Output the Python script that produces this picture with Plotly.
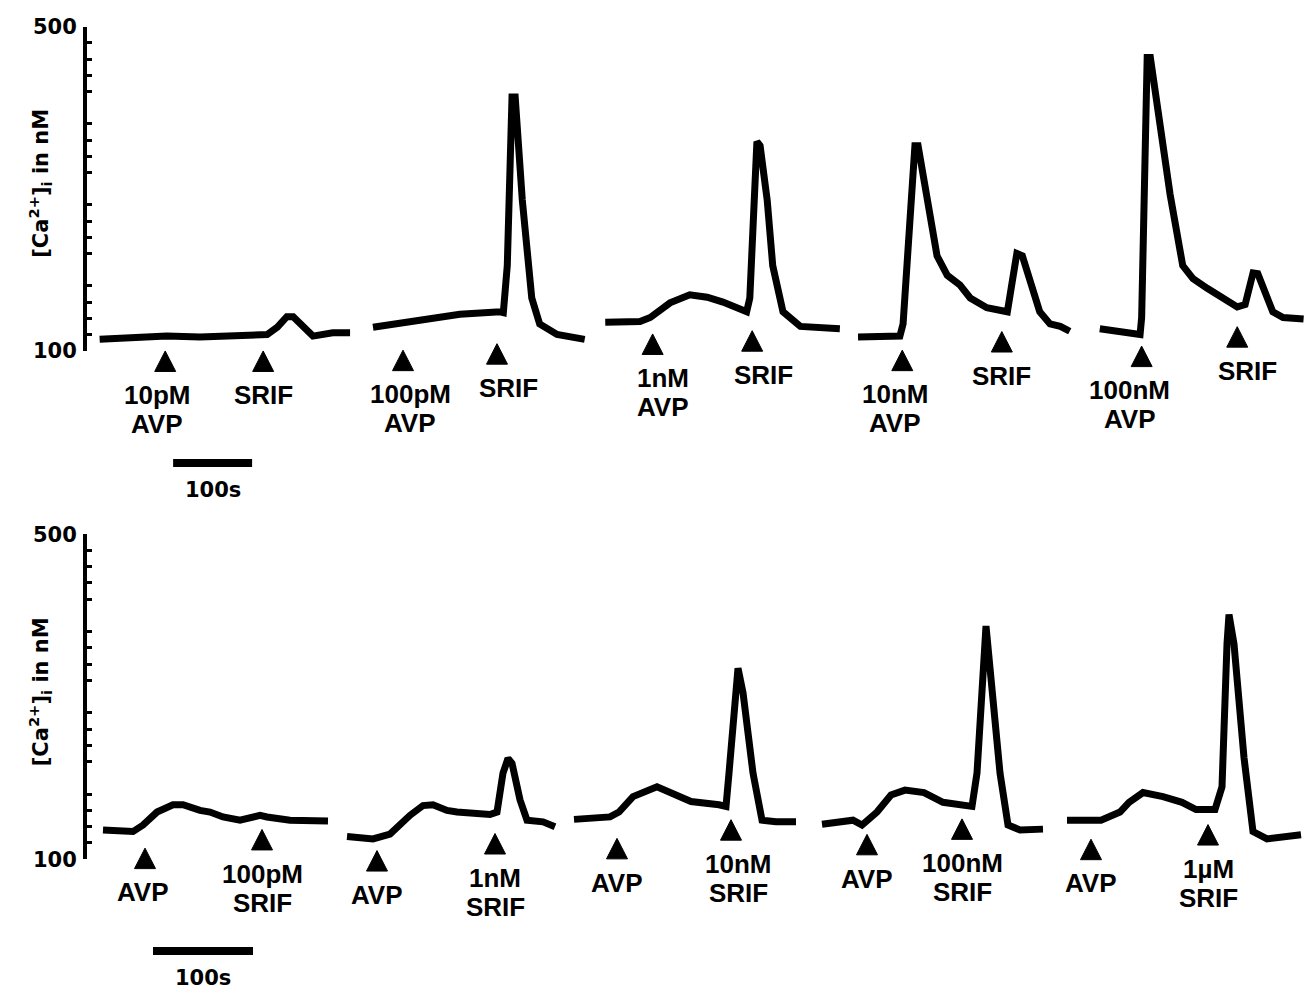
import plotly.graph_objects as go

# ---------------- Upper traces: rising AVP doses, each followed by SRIF ----------------
# time in s, [Ca2+]i in nM
up_t_10pM = [16, 58, 101, 143, 185, 228, 241, 253, 261, 273, 286, 311, 333]
up_ca_10pM = [114, 117, 118, 117, 118, 120, 129, 142, 142, 129, 118, 122, 122]

up_t_100pM = [362, 405, 447, 472, 523, 527, 532, 538, 542, 551, 563, 573, 595, 630]
up_ca_100pM = [129, 135, 141, 145, 148, 147, 205, 413, 413, 286, 165, 133, 120, 114]

up_t_1nM = [656, 700, 713, 738, 763, 785, 805, 835, 839, 848, 852, 861, 868, 881, 903, 953]
up_ca_1nM = [135, 136, 141, 159, 169, 166, 160, 148, 165, 358, 353, 286, 205, 148, 130, 127]

up_t_10nM = [976, 1029, 1033, 1042, 1048, 1052, 1057, 1076, 1089, 1105, 1118, 1139,
             1165, 1171, 1177, 1184, 1206, 1219, 1232, 1244]
up_ca_10nM = [117, 118, 133, 253, 353, 353, 325, 217, 193, 181, 165, 153,
              148, 189, 220, 217, 148, 133, 130, 124]

up_t_100nM = [1282, 1333, 1335, 1339, 1342, 1346, 1352, 1371, 1387, 1400, 1418, 1438,
              1456, 1466, 1476, 1482, 1501, 1514, 1540]
up_ca_100nM = [127, 120, 141, 334, 462, 462, 422, 293, 205, 189, 177, 165,
               154, 157, 196, 195, 148, 141, 139]

up_avp_time = [99, 400, 716, 1032, 1335]
up_srif_time = [223, 519, 842, 1158, 1456]
up_avp_dose = ["10pM", "100pM", "1nM", "10nM", "100nM"]

# ---------------- Lower traces: fixed AVP, rising SRIF doses ----------------
lo_t_100pM = [16, 46, 56, 70, 86, 96, 113, 123, 136, 153, 173, 180, 203, 241]
lo_ca_100pM = [136, 134, 142, 158, 167, 167, 160, 158, 152, 148, 154, 152, 148, 147]

lo_t_1nM = [260, 286, 303, 323, 336, 346, 360, 370, 403, 410, 416, 421, 425, 433, 440, 456, 468]
lo_ca_1nM = [128, 125, 131, 154, 166, 167, 160, 158, 155, 158, 206, 224, 218, 173, 148, 146, 140]

lo_t_10nM = [487, 523, 532, 546, 570, 589, 604, 632, 639, 642, 651, 656, 666, 675, 689, 709]
lo_ca_10nM = [149, 152, 158, 177, 189, 179, 171, 167, 165, 206, 335, 305, 206, 148, 146, 146]

lo_t_100nM = [735, 766, 775, 790, 804, 818, 837, 856, 885, 890, 899, 904, 913, 921, 933, 956]
lo_ca_100nM = [143, 148, 142, 158, 179, 185, 182, 170, 165, 206, 387, 325, 206, 142, 136, 137]

lo_t_1uM = [980, 1014, 1033, 1042, 1056, 1076, 1095, 1109, 1128, 1135, 1140, 1142, 1147,
            1157, 1166, 1180, 1214]
lo_ca_1uM = [148, 148, 158, 170, 182, 177, 170, 161, 161, 189, 365, 401, 365,
             225, 134, 125, 130]

lo_avp_time = [58, 290, 530, 780, 1004]
lo_srif_time = [175, 408, 644, 875, 1121]
lo_srif_dose = ["100pM", "1nM", "10nM", "100nM", "1µM"]

SCALE_BAR_S = 100  # length of the time scale bar

# ---------------- layout geometry & styles ----------------
W, H = 1310, 1001
LEFT = 87
PLOT_W = W - LEFT

# arrowhead levels (nM) and label nudges (px)
up_avp_lvl = [87, 88, 108, 88, 93]
up_srif_lvl = [87, 96, 112, 111, 117]
lo_avp_lvl = [101, 98, 113, 118, 112]
lo_srif_lvl = [124, 119, 136, 137, 130]
up_avp_dx = [-8, 7, 10, -7, -12]
up_srif_dx = [0, 11, 11, 0, 10]
lo_avp_dx = [-2, 0, 0, 0, 0]
lo_srif_dx = [0, 0, 7, 0, 0]

LINE_W = 7
TRI_W_PX, TRI_H_PX = 21, 21
LABEL_FONT = dict(family="Liberation Sans", size=26, color="black", weight="bold")
AXIS_FONT = dict(family="DejaVu Sans", size=21, color="black", weight="bold")
CLEAR = "rgba(0,0,0,0)"


def frac(py):
    return 1 - py / H


panels = [
    # y pixel of 500 nM, of 100 nM, lower edge of the annotation area, seconds per pixel
    dict(top=15, bottom=347, ext=520, spp=100 / 79, bar_start=109, bar_py=462,
         title_py=176,
         traces=[(up_t_10pM, up_ca_10pM), (up_t_100pM, up_ca_100pM), (up_t_1nM, up_ca_1nM),
                 (up_t_10nM, up_ca_10nM), (up_t_100nM, up_ca_100nM)]),
    dict(top=535, bottom=868, ext=1001, spp=1.0, bar_start=66, bar_py=962,
         title_py=697,
         traces=[(lo_t_100pM, lo_ca_100pM), (lo_t_1nM, lo_ca_1nM), (lo_t_10nM, lo_ca_10nM),
                 (lo_t_100nM, lo_ca_100nM), (lo_t_1uM, lo_ca_1uM)]),
]

fig = go.Figure()
annotations = []
layout_axes = {}

for i, p in enumerate(panels):
    n_main = i + 1          # visible axis subplot
    n_ext = i + 3           # invisible subplot reaching below the axis
    n_maj = i + 5           # unlabeled major ticks at 200/300/400
    xm = "x" if n_main == 1 else f"x{n_main}"
    ym = "y" if n_main == 1 else f"y{n_main}"
    xe, ye = f"x{n_ext}", f"y{n_ext}"
    nm_per_px = 400 / (p["bottom"] - p["top"])
    ext_lo = 500 - (p["ext"] - p["top"]) * nm_per_px
    xr = [0, PLOT_W * p["spp"]]
    dom = [frac(p["bottom"]), frac(p["top"])]

    layout_axes["xaxis" if n_main == 1 else f"xaxis{n_main}"] = dict(
        domain=[0, 1], range=xr, visible=False, anchor=ym)
    layout_axes["yaxis" if n_main == 1 else f"yaxis{n_main}"] = dict(
        domain=dom, range=[100, 500], anchor=xm,
        showline=True, linecolor="black", linewidth=4, showgrid=False, zeroline=False,
        ticks="inside", ticklen=9, tickwidth=4, tickcolor="black",
        tickvals=[100, 500], ticktext=["100", "500"],
        tickfont=AXIS_FONT, ticklabelstandoff=2,
        minor=dict(tickvals=[v for v in range(120, 500, 20) if v % 100],
                   ticks="inside", ticklen=5, tickwidth=3, tickcolor="black",
                   showgrid=False))
    layout_axes[f"yaxis{n_maj}"] = dict(
        domain=dom, range=[100, 500], overlaying=ym, anchor=xm, side="left",
        showline=False, showgrid=False, zeroline=False, showticklabels=False,
        ticks="inside", ticklen=9, tickwidth=4, tickcolor="black",
        tickvals=[200, 300, 400])
    layout_axes[f"xaxis{n_ext}"] = dict(domain=[0, 1], range=xr, matches=xm,
                                        visible=False, anchor=ye)
    layout_axes[f"yaxis{n_ext}"] = dict(domain=[frac(p["ext"]), frac(p["top"])],
                                        range=[ext_lo, 500], visible=False, anchor=xe)

    # Ca2+ traces
    for t, ca in p["traces"]:
        fig.add_trace(go.Scatter(x=t, y=ca, mode="lines", xaxis=xm, yaxis=ym,
                                 line=dict(color="black", width=LINE_W),
                                 showlegend=False, hoverinfo="skip"))

    # arrowheads and their labels
    if i == 0:
        marks = [(up_avp_time, up_avp_lvl, up_avp_dx, [[d, "AVP"] for d in up_avp_dose]),
                 (up_srif_time, up_srif_lvl, up_srif_dx, [["SRIF"] for _ in up_srif_time])]
    else:
        marks = [(lo_avp_time, lo_avp_lvl, lo_avp_dx, [["AVP"] for _ in lo_avp_time]),
                 (lo_srif_time, lo_srif_lvl, lo_srif_dx, [[d, "SRIF"] for d in lo_srif_dose])]

    hw = TRI_W_PX / 2 * p["spp"]
    hh = TRI_H_PX / 2 * nm_per_px
    tx, ty = [], []
    for times, lvls, dxs, texts in marks:
        for t, lv, dx, lines in zip(times, lvls, dxs, texts):
            tx += [t - hw, t + hw, t, t - hw, None]
            ty += [lv - hh, lv - hh, lv + hh, lv - hh, None]
            for k, line in enumerate(lines):
                annotations.append(dict(
                    x=t, y=lv, xref=xe, yref=ye, text=line, showarrow=False,
                    xanchor="center", yanchor="middle", xshift=dx, yshift=-34 - 29 * k,
                    font=LABEL_FONT))
    fig.add_trace(go.Scatter(x=tx, y=ty, mode="lines", fill="toself", fillcolor="black",
                             line=dict(color="black", width=1), xaxis=xe, yaxis=ye,
                             showlegend=False, hoverinfo="skip"))

    # 100 s scale bar
    bar_lvl = 500 - (p["bar_py"] - p["top"]) * nm_per_px
    fig.add_trace(go.Scatter(x=[p["bar_start"], p["bar_start"] + SCALE_BAR_S],
                             y=[bar_lvl, bar_lvl], mode="lines", xaxis=xe, yaxis=ye,
                             line=dict(color="black", width=8),
                             showlegend=False, hoverinfo="skip"))
    annotations.append(dict(x=p["bar_start"] + SCALE_BAR_S / 2, y=bar_lvl, xref=xe, yref=ye,
                            text=f"{SCALE_BAR_S}s", showarrow=False, yshift=-27,
                            xanchor="center", yanchor="middle", font=AXIS_FONT))

    # axis title
    annotations.append(dict(x=0, y=frac(p["title_py"]), xref="paper", yref="paper",
                            xshift=-47, text="[Ca<sup>2+</sup>]<sub>i</sub> in nM",
                            textangle=-90, showarrow=False, xanchor="center",
                            yanchor="middle", font=AXIS_FONT))

fig.update_layout(
    width=W, height=H,
    margin=dict(l=LEFT, r=0, t=0, b=0),
    paper_bgcolor="white", plot_bgcolor=CLEAR,
    showlegend=False,
    annotations=annotations,
    **layout_axes,
)

fig.write_html("out.html")
